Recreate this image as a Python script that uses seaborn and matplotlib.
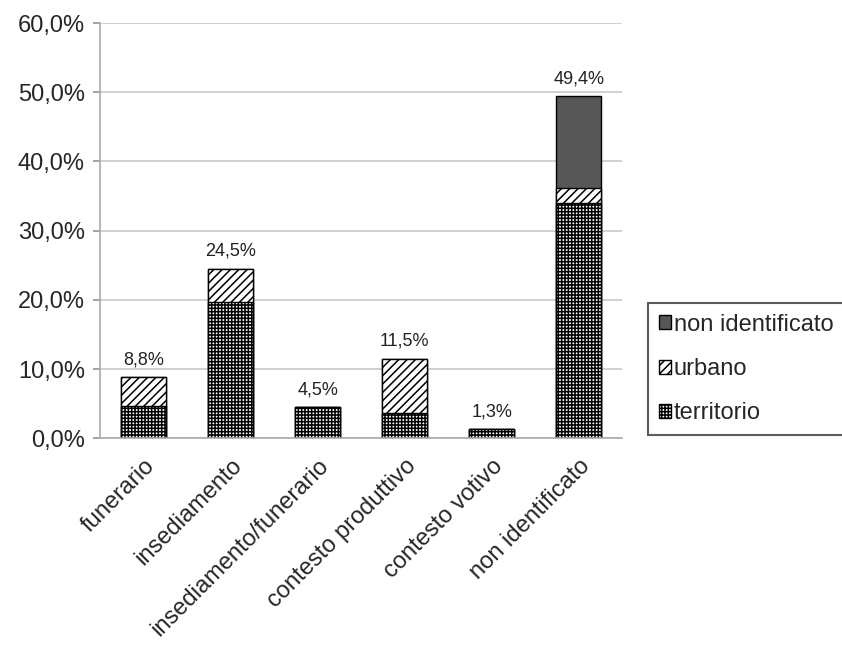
import numpy as np
import pandas as pd
import matplotlib
matplotlib.use("Agg")
import matplotlib.pyplot as plt
import seaborn as sns
from matplotlib.patches import Patch

categories = ["funerario", "insediamento", "insediamento/funerario",
              "contesto produttivo", "contesto votivo", "non identificato"]
territorio = [4.6, 19.7, 4.5, 3.6, 1.3, 34.0]
urbano = [4.2, 4.8, 0.0, 7.9, 0.0, 2.1]
non_identificato = [0.0, 0.0, 0.0, 0.0, 0.0, 13.3]
totals_label = ["8,8%", "24,5%", "4,5%", "11,5%", "1,3%", "49,4%"]
yticks = [0, 10, 20, 30, 40, 50, 60]

sns.set_theme(style="white")
plt.rcParams["font.family"] = ["Liberation Sans", "DejaVu Sans"]
plt.rcParams["hatch.linewidth"] = 1.1

df = pd.DataFrame({"cat": categories, "territorio": territorio,
                   "urbano": urbano, "non": non_identificato})
df["lvl2"] = df["territorio"] + df["urbano"]
df["lvl3"] = df["lvl2"] + df["non"]

fig = plt.figure(figsize=(8.42, 6.6), dpi=100)
ax = fig.add_axes([0.119, 0.336, 0.62, 0.629])

# stacked bars: draw cumulative totals from top layer down
for ycol, face, hatch in [("lvl3", "#575757", None),
                          ("lvl2", "white", "////"),
                          ("territorio", "white", "+++++")]:
    sns.barplot(data=df, x="cat", y=ycol, color=face, width=0.52,
                edgecolor="black", linewidth=1.0, ax=ax, saturation=1)
    n = len(categories)
    for p in ax.patches[-n:]:
        p.set_facecolor(face)
        if hatch:
            p.set_hatch(hatch)

for i, (t, lab) in enumerate(zip(df["lvl3"], totals_label)):
    ax.text(i, t + 1.3, lab, ha="center", va="bottom", fontsize=13, color="#222222")

ax.set_ylim(0, 60)
ax.set_xlim(-0.5, len(categories) - 0.5)
ax.set_yticks(yticks)
ax.set_yticklabels([f"{v},0%" for v in yticks], fontsize=17)
ax.set_xticks(range(len(categories)))
ax.set_xticklabels(categories, rotation=45, ha="right", rotation_mode="anchor", fontsize=17)
ax.tick_params(axis="x", length=0, pad=12)
ax.tick_params(axis="y", length=5, color="#999999", left=True, pad=6)
ax.set_xlabel("")
ax.set_ylabel("")
ax.yaxis.grid(True, color="#c8c8c8", linewidth=1.2)
ax.set_axisbelow(True)
for s in ["top", "right"]:
    ax.spines[s].set_visible(False)
ax.spines["left"].set_color("#aaaaaa")
ax.spines["bottom"].set_color("#aaaaaa")
ax.spines["left"].set_linewidth(1.2)
ax.spines["bottom"].set_linewidth(1.2)

handles = [Patch(facecolor="#575757", edgecolor="black", label="non identificato"),
           Patch(facecolor="white", edgecolor="black", hatch="////", label="urbano"),
           Patch(facecolor="white", edgecolor="black", hatch="+++++", label="territorio")]
leg = fig.legend(handles=handles, loc="upper left", bbox_to_anchor=(0.770, 0.541),
                 frameon=True, fancybox=False, fontsize=17, handlelength=0.5,
                 handleheight=0.55, handletextpad=0.12, labelspacing=0.95,
                 borderpad=0.45, borderaxespad=0)
leg.get_frame().set_edgecolor("#333333")
leg.get_frame().set_linewidth(1.5)

fig.savefig("out.png", dpi=100, facecolor="white")
